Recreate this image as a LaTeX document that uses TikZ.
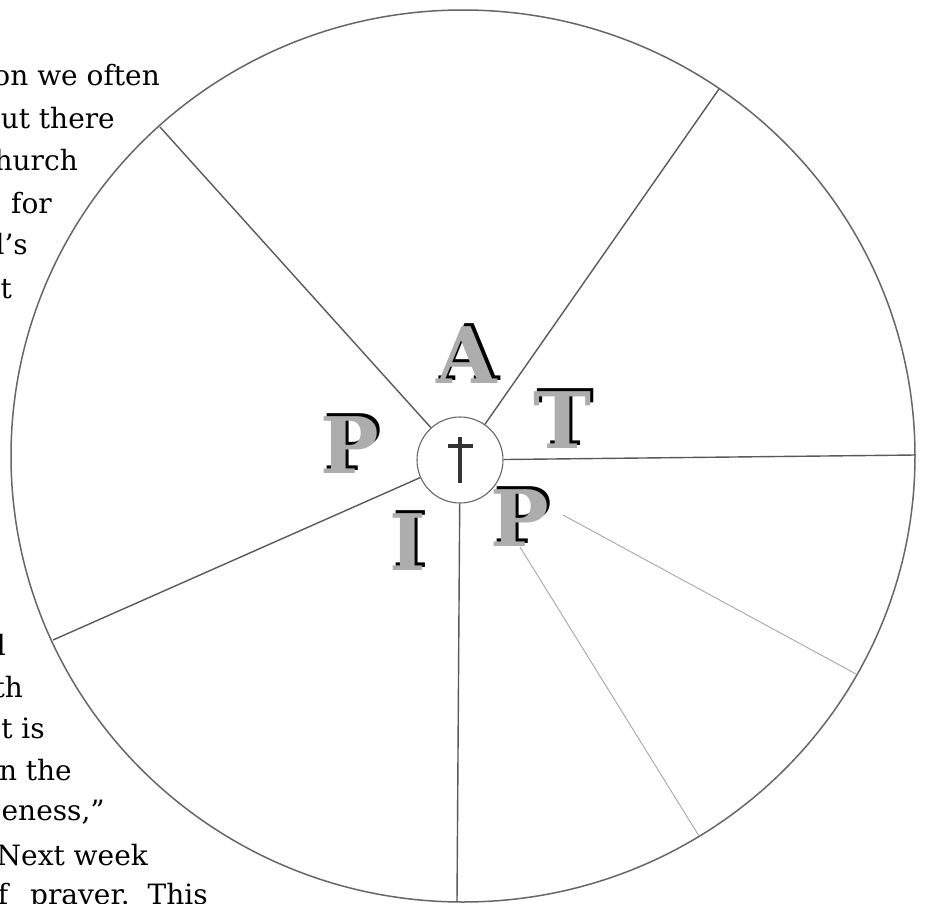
\documentclass[tikz,border=0pt]{standalone}
\usepackage{fontspec}
\setmainfont{DejaVu Serif}
\newfontfamily\capsfont{DejaVu Serif}

\begin{document}
\begin{tikzpicture}[x=1pt, y=-1pt,
    spoke/.style={draw=black!65, line width=1.4pt},
    faint/.style={draw=black!35, line width=0.9pt},
    hub/.style={circle, draw=black!60, line width=1.1pt, minimum size=86pt, inner sep=0pt},
    capletter/.style={font=\capsfont\bfseries\fontsize{78}{78}\selectfont, text=black!32, inner sep=0pt},
    capshadow/.style={capletter, text=black, xshift=3pt, yshift=2.5pt},
    bodytext/.style={font=\fontsize{28}{34}\selectfont, anchor=base east, inner sep=0pt}]

% Frame of the page
\useasboundingbox (0,0) rectangle (927,903);
\clip (0,0) rectangle (927,903);

% Page text at the left edge
\node[bodytext] (line1) at (160,85) {on we often};
\node[bodytext] (line2) at (115,128) {ut there};
\node[bodytext] (line3) at (78,170) {hurch};
\node[bodytext] (line4) at (52,213) {for};
\node[bodytext] (line5) at (28,254) {l’s};
\node[bodytext] (line6) at (12,298) {t};
\node[bodytext] (line7) at (6,655) {d};
\node[bodytext] (line8) at (23,697) {th};
\node[bodytext] (line9) at (45,738) {t is};
\node[bodytext] (line10) at (72,780) {n the};
\node[bodytext] (line11) at (105,820) {eness,”};
\node[bodytext] (line12) at (148,865) {Next week};
\node[bodytext] (line13) at (208,904) {f\hspace{22pt}prayer.\hspace{18pt}This};

% Draw the outer wheel
\draw[black!60, line width=1.5pt] (463,456) ellipse [x radius=452, y radius=446];

% Hub with the cross
\node[hub] (hub) at (460,460) {};
\draw[black!80, line width=3.4pt] (460,437) -- (460,483);
\draw[black!80, line width=3.4pt] (448,446) -- (473,446);

% Points on the rim
\coordinate (rimA) at (160,127);
\coordinate (rimB) at (719,89);
\coordinate (rimC) at (915,455);
\coordinate (rimD) at (457,902);
\coordinate (rimE) at (53,640);
\coordinate (rimF) at (856,674);
\coordinate (rimG) at (699,836);
\coordinate (startF) at (563,515);
\coordinate (startG) at (520,547);

% Spokes
\draw[spoke] (hub) -- (rimA);
\draw[spoke] (hub) -- (rimB);
\draw[spoke] (hub) -- (rimC);
\draw[spoke] (hub) -- (rimD);
\draw[spoke] (hub) -- (rimE);
\draw[faint] (startF) -- (rimF);
\draw[faint] (startG) -- (rimG);

% Letters round the hub
\foreach \nm/\lx/\ly/\ch in {letA/467/355/A, letT/563/420/T, letPa/350/445/P, letPb/520/518/P, letI/408/542/I} {
    \node[capshadow] at (\lx,\ly) {\ch};
    \node[capletter] (\nm) at (\lx,\ly) {\ch};
}
\end{tikzpicture}
\end{document}
